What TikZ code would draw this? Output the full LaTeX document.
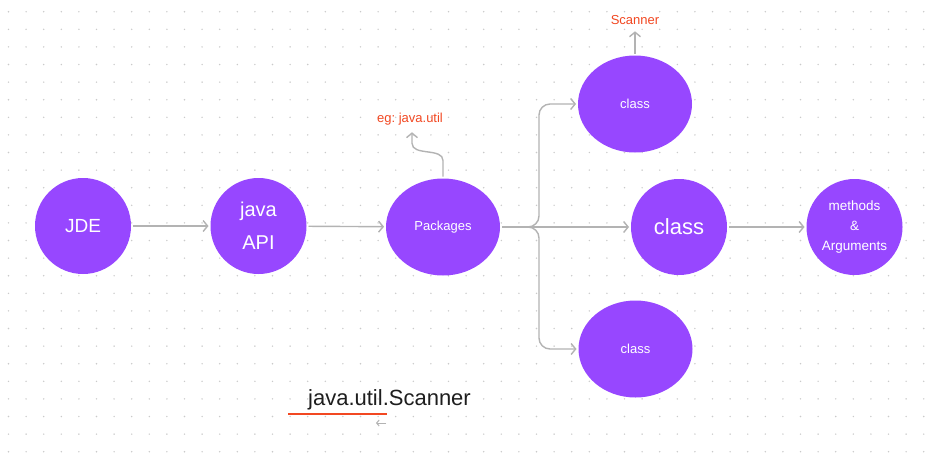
\documentclass[tikz,border=0pt]{standalone}
\usepackage{fontspec}
\setmainfont{Liberation Sans}
\usepackage{tikz}
\usepackage{xcolor}
\usetikzlibrary{arrows.meta,shapes.geometric,calc}
\definecolor{bubblepurple}{HTML}{9747FF}
\definecolor{notered}{HTML}{F24822}
\definecolor{linegray}{HTML}{B3B3B3}
\definecolor{dotgray}{HTML}{CACACA}
\definecolor{inkdark}{HTML}{1E1E1E}
\frenchspacing
\tikzstyle{arr}=[-{Straight Barb[length=4.5pt,width=11pt]},draw=linegray,line width=1.4pt]
\tikzstyle{smallarr}=[-{Straight Barb[length=2.5pt,width=6pt]},draw=linegray,line width=1pt]
\newcommand\bubbleR{48pt}
\tikzstyle{bubble}=[circle,minimum size=2*\bubbleR,inner sep=0pt,outer sep=2pt,
  fill=bubblepurple,text=white,align=center]
\tikzstyle{ebubble}=[ellipse,minimum width=114pt,minimum height=97pt,inner sep=0pt,
  outer sep=2pt,fill=bubblepurple,text=white,align=center]
\tikzstyle{note}=[text=notered,inner sep=0pt,font=\fs{13}]
\newcommand\fs[1]{\fontsize{#1}{#1}\selectfont}

\begin{document}
\begin{tikzpicture}[x=1pt,y=-1pt]
  \useasboundingbox[fill=white] (0,0) rectangle (941,456);
  % dotted canvas
  \foreach \i in {0,...,52}
    \foreach \j in {0,...,25}
      \fill[dotgray] (8.5+17.6*\i,11.7+17.6*\j) circle (0.8);

  \node[bubble,font=\fs{19}] (jde) at (83,226) {JDE};
  \node[bubble,font=\fontsize{20}{33}\selectfont] (api) at (258.5,226) {\raisebox{-3pt}{java}\\\raisebox{-3pt}{API}};
  \node[ebubble,font=\fs{13}] (pkg) at (443,227) {Packages};
  \node[ebubble,font=\fs{13}] (clsT) at (635,104) {class};
  \node[bubble,font=\fs{22}] (clsM) at (679,227) {class};
  \node[ebubble,font=\fs{13}] (clsB) at (635.5,349) {class};
  \node[bubble,font=\fontsize{13.5}{20}\selectfont] (meth) at (854.5,227) {methods\\\&\\Arguments};

  \node[note] (eg) at (410,119) {eg: java.util};
  \node[note] (scan) at (635,20.5) {Scanner};
  \node[font=\fs{22},text=inkdark,inner sep=0pt] (jus) at (389.5,400) {java.util.Scanner};

  \draw[arr] (jde) -- (api);
  \draw[arr] (api) -- (pkg);
  \draw[arr] (pkg) -- (clsM);
  \draw[arr] (clsM) -- (meth);

  \coordinate (fork) at (539,227);
  \draw[arr,rounded corners=11] (pkg.east) -| (fork |- clsT.west) -- (clsT.west);
  \draw[arr,rounded corners=11] (pkg.east) -| (fork |- clsB.west) -- (clsB.west);

  \draw[arr] (pkg.north) -- ++(0,-16) .. controls +(0,-13) and +(0,13) .. ($(eg.south)+(2,18)$)
    -- ($(eg.south)+(2,7)$);
  \draw[arr] (clsT.north) -- ($(scan.south)+(0,6)$);

  \coordinate (ulA) at (288,414);
  \coordinate (ulB) at (387,414);
  \draw[notered,line width=1.5pt] (ulA) -- (ulB);
  \coordinate (bkA) at (386,423);
  \coordinate (bkB) at (376,423);
  \draw[smallarr] (bkA) -- (bkB);
\end{tikzpicture}
\end{document}
